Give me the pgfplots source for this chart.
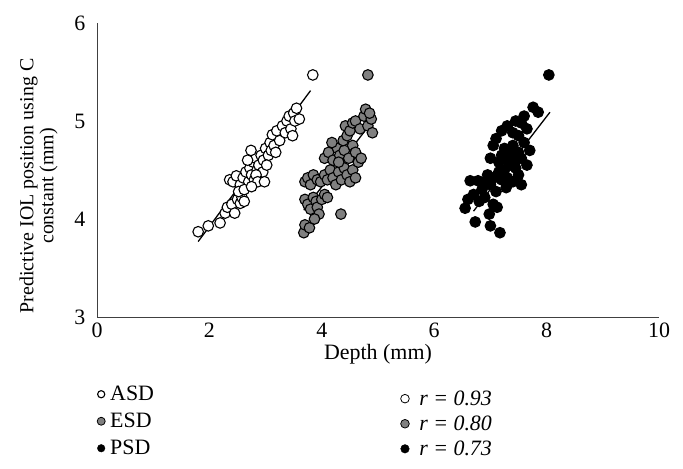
\documentclass[border=0pt]{standalone}
\usepackage{pgfplots}
\pgfplotsset{compat=1.18}
\usepackage{fontspec}
\setmainfont{Liberation Serif}
\definecolor{esdgray}{HTML}{808080}
\definecolor{axgray}{HTML}{404040}
\begin{document}
\begin{tikzpicture}
\useasboundingbox (0,0) rectangle (683bp,469bp);
\pgfplotsset{
  every axis/.append style={font=\fontsize{22}{26}\selectfont},
}
\begin{axis}[
  at={(97bp,152bp)}, anchor=south west,
  scale only axis, width=562bp, height=294bp,
  xmin=0, xmax=10, ymin=3, ymax=6,
  xtick={0,2,4,6,8,10}, ytick={3,4,5,6},
  axis lines=left, axis line style={-, axgray, line width=1pt},
  tick style={draw=none},
  /pgf/number format/assume math mode=true,
  yticklabel style={xshift=-6bp},
  xticklabel style={yshift=0bp},
  xlabel={Depth (mm)},
  xlabel style={yshift=0bp},
  ylabel={Predictive IOL position using C\\constant (mm)},
  ylabel style={align=center, font=\fontsize{20}{20}\selectfont, yshift=10bp, xshift=-16bp},
  clip=false,
]
% ASD
\addplot[only marks, mark=*, mark size=5.3bp, mark options={fill=white, draw=black, line width=1.1pt}] coordinates {
(1.80,3.87) (1.98,3.93) (2.19,3.96) (2.28,4.06) (2.32,4.12) (2.40,4.15) (2.45,4.06)
(2.50,4.20) (2.55,4.16) (2.58,4.22) (2.62,4.18) (2.36,4.40) (2.42,4.38) (2.48,4.44)
(2.55,4.35) (2.60,4.42) (2.65,4.48) (2.70,4.38) (2.72,4.52) (2.75,4.45) (2.78,4.58)
(2.80,4.40) (2.82,4.62) (2.85,4.50) (2.88,4.55) (2.90,4.43) (2.92,4.65) (2.95,4.48)
(2.68,4.60) (2.74,4.70) (2.83,4.45) (2.86,4.38) (2.98,4.38) (3.00,4.72) (2.96,4.60)
(3.05,4.65) (3.08,4.78) (3.10,4.70) (3.12,4.86) (3.15,4.75) (3.18,4.68) (3.20,4.90)
(3.25,4.80) (3.30,4.95) (3.35,4.88) (3.38,5.00) (3.42,5.05) (3.45,4.92) (3.50,5.08)
(3.52,5.00) (3.48,4.85) (3.55,5.13) (3.60,5.02) (3.84,5.47) (2.52,4.28) (2.62,4.30)
(2.75,4.33) (3.02,4.55)
};
% ESD
\addplot[only marks, mark=*, mark size=5.3bp, mark options={fill=esdgray, draw=black, line width=1.1pt}] coordinates {
(3.68,3.86) (3.70,3.94) (3.78,3.91) (3.70,4.20) (3.75,4.15) (3.80,4.10) (3.85,4.22)
(3.90,4.18) (3.92,4.12) (3.95,4.05) (4.00,4.20) (4.05,4.25) (4.10,4.22) (3.87,4.00)
(4.34,4.05) (3.70,4.38) (3.75,4.42) (3.80,4.35) (3.85,4.45) (3.92,4.40) (3.98,4.38)
(4.05,4.45) (4.10,4.40) (4.15,4.50) (4.20,4.42) (4.25,4.35) (4.30,4.48) (4.35,4.40)
(4.40,4.52) (4.45,4.45) (4.50,4.38) (4.55,4.50) (4.60,4.42) (4.05,4.62) (4.12,4.68)
(4.20,4.60) (4.28,4.72) (4.32,4.65) (4.40,4.70) (4.48,4.62) (4.55,4.75) (4.60,4.68)
(4.65,4.58) (4.70,4.62) (4.38,4.80) (4.45,4.85) (4.42,4.95) (4.50,4.90) (4.55,4.98)
(4.60,5.00) (4.68,4.92) (4.75,5.05) (4.78,5.12) (4.82,4.95) (4.88,5.02) (4.90,4.88)
(4.85,5.08) (4.82,5.47) (4.30,4.58) (4.18,4.78)
};
% PSD
\addplot[only marks, mark=*, mark size=5.3bp, mark options={fill=black, draw=black, line width=1.1pt}] coordinates {
(6.55,4.11) (6.60,4.20) (6.73,3.97) (7.00,3.93) (7.17,3.86) (6.98,4.05) (6.70,4.25)
(6.80,4.18) (6.90,4.22) (7.05,4.15) (7.10,4.28) (6.64,4.39) (6.78,4.39) (6.90,4.38)
(6.95,4.45) (7.00,4.35) (7.05,4.42) (7.15,4.48) (7.20,4.40) (7.25,4.50) (7.30,4.42)
(7.35,4.55) (7.40,4.38) (7.45,4.60) (7.50,4.45) (7.55,4.35) (7.28,4.32) (7.15,4.58)
(7.20,4.65) (7.25,4.72) (7.30,4.60) (7.35,4.68) (7.40,4.75) (7.45,4.52) (7.50,4.68)
(7.55,4.62) (7.60,4.78) (7.65,4.55) (7.00,4.62) (7.05,4.75) (7.10,4.82) (7.20,4.90)
(7.30,4.95) (7.40,4.88) (7.45,5.00) (7.55,4.98) (7.60,5.05) (7.50,4.85) (7.65,4.92)
(7.76,5.14) (7.85,5.09) (8.04,5.47) (7.70,4.70) (6.85,4.30) (7.12,4.12)
};
% regression lines
\addplot[black, line width=1.3pt] coordinates {(1.80,3.77) (3.80,5.31)};
\addplot[black, line width=1.3pt] coordinates {(3.68,4.09) (4.89,4.99)};
\addplot[black, line width=1.3pt] coordinates {(6.70,4.08) (8.06,5.09)};
\end{axis}
% left legend
\begin{axis}[
  at={(97bp,152bp)}, anchor=south west,
  scale only axis, width=562bp, height=294bp,
  xmin=0, xmax=10, ymin=3, ymax=6, hide axis,
  legend style={draw=none, fill=none, at={(0,-0.228)}, anchor=north west,
    legend cell align=left, row sep=7bp, inner sep=0pt,
    nodes={inner sep=2bp},
    /tikz/every odd column/.append style={column sep=3bp}},
]
\addlegendimage{only marks, mark=*, mark size=3.6bp, mark options={fill=white, draw=black, line width=1.1pt}}
\addlegendentry{ASD}
\addlegendimage{only marks, mark=*, mark size=4bp, mark options={fill=esdgray, draw=black, line width=0.8pt}}
\addlegendentry{ESD}
\addlegendimage{only marks, mark=*, mark size=3.8bp, mark options={fill=black, draw=black}}
\addlegendentry{PSD}
\end{axis}
% right legend
\begin{axis}[
  at={(97bp,152bp)}, anchor=south west,
  scale only axis, width=562bp, height=294bp,
  xmin=0, xmax=10, ymin=3, ymax=6, hide axis,
  legend style={draw=none, fill=none, at={(0.54,-0.243)}, anchor=north west,
    legend cell align=left, row sep=5bp, inner sep=0pt,
    nodes={inner sep=2bp},
    /tikz/every odd column/.append style={column sep=8bp}},
]
\addlegendimage{only marks, mark=*, mark size=4.3bp, mark options={fill=white, draw=black, line width=0.8pt}}
\addlegendentry{\textit{r = 0.93}}
\addlegendimage{only marks, mark=*, mark size=4.3bp, mark options={fill=esdgray, draw=black, line width=0.8pt}}
\addlegendentry{\textit{r = 0.80}}
\addlegendimage{only marks, mark=*, mark size=4.3bp, mark options={fill=black, draw=black}}
\addlegendentry{\textit{r = 0.73}}
\end{axis}
\end{tikzpicture}
\end{document}
